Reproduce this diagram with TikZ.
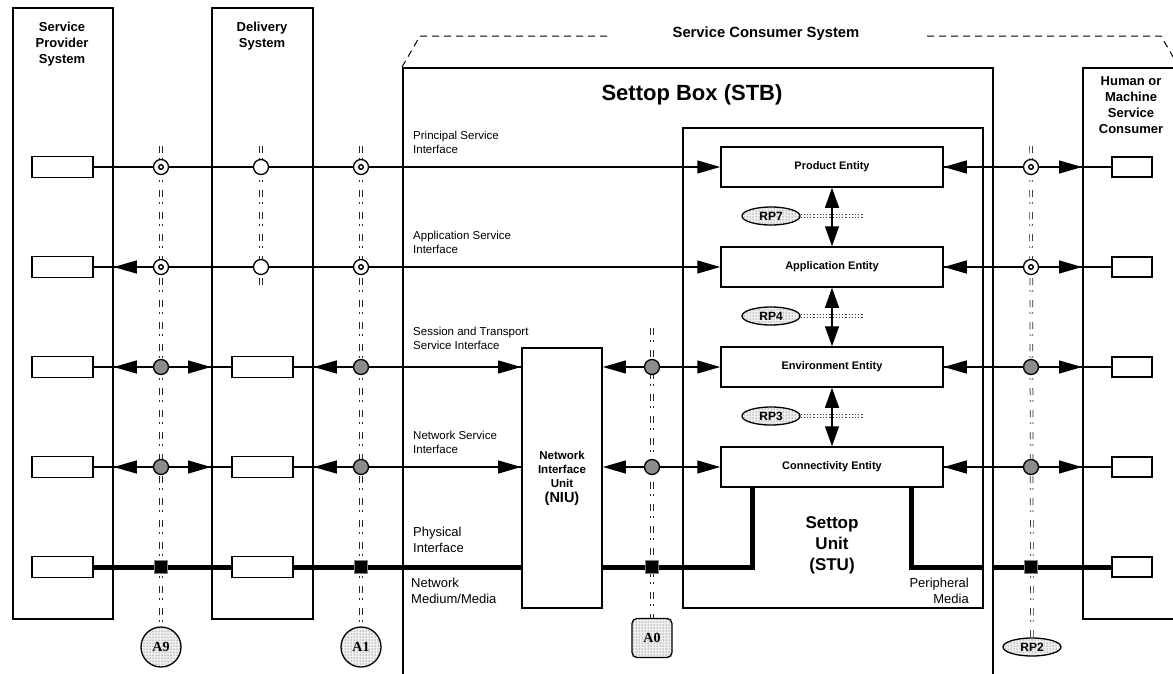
\documentclass[tikz,border=0pt]{standalone}
\usepackage{fontspec}
\setmainfont{Liberation Sans}
\newfontfamily\timesf{Liberation Serif}
\usetikzlibrary{arrows.meta,patterns,shapes.geometric}
\pgfdeclarelayer{bg}
\pgfsetlayers{bg,main}
\begin{document}
\begin{tikzpicture}[x=1pt,y=-1pt,
  sys/.style={draw, line width=1.8pt, inner sep=0, anchor=north west},
  ttl/.style={inner sep=0, anchor=north, align=center, font=\fontsize{13}{16}\selectfont\bfseries},
  lbl/.style={inner sep=0, anchor=north west, align=left, font=\fontsize{11.5}{14}\selectfont},
  lbll/.style={inner sep=0, anchor=north west, align=left, font=\fontsize{13}{16}\selectfont},
  small/.style={draw, line width=1.5pt, fill=white, minimum width=61pt, minimum height=21pt, inner sep=0},
  smallr/.style={small, minimum width=40pt, minimum height=20pt},
  ent/.style={draw, line width=1.5pt, fill=white, minimum width=222pt, minimum height=40pt, inner sep=0, font=\fontsize{11}{12}\selectfont\bfseries},
  conn/.style={line width=1.3pt},
  arr/.style={conn, -{Triangle[length=23pt,width=13pt]}},
  dbl/.style={conn, {Triangle[length=20pt,width=14pt]}-{Triangle[length=20pt,width=14pt]}},
  opc/.style={circle, draw, line width=1.3pt, fill=white, minimum size=15pt, inner sep=0},
  ringc/.style={opc, path picture={\draw[line width=1.4pt] (path picture bounding box.center) circle (2.3pt);}},
  grc/.style={opc, fill=black!45},
  sq/.style={draw=black!50, fill=black, minimum size=13pt, inner sep=0, line width=0.8pt},
  phys/.style={line width=5pt},
  refl/.style={draw=black!85, double=white, double distance=2pt, line width=0.75pt, dash pattern=on 7pt off 5pt on 1.5pt off 8.5pt},
  rpdot/.style={draw=black!75, line width=1pt, dash pattern=on 1.2pt off 2pt},
  stip/.style={preaction={fill=black!6}, pattern=dots, pattern color=black!80},
  rpe/.style={ellipse, draw, line width=1.3pt, stip, minimum width=58pt, minimum height=18pt, inner sep=0, font=\fontsize{12}{12}\selectfont\bfseries},
  acirc/.style={circle, draw, line width=1.3pt, stip, minimum size=40pt, inner sep=0, font=\timesf\fontsize{14}{14}\selectfont\bfseries},
  dsh/.style={line width=1pt, dash pattern=on 7pt off 5pt}
]
\useasboundingbox (0,0) rectangle (1173,673);
\clip (0,0) rectangle (1173,673);

% systems
\node[sys, minimum width=100pt, minimum height=611pt] (sps) at (12,7) {};
\node[ttl] (spst) at (62,22) {Service\\Provider\\System};
\node[sys, minimum width=101pt, minimum height=611pt] (ds) at (211,7) {};
\node[ttl] (dst) at (262,22) {Delivery\\System};
\node[sys, minimum width=590pt, minimum height=640pt] (stb) at (402,67) {};
\node[inner sep=0, anchor=north, font=\fontsize{22}{24}\selectfont\bfseries] (stbt) at (692,84) {Settop Box (STB)};
\node[sys, minimum width=300pt, minimum height=480pt] (stu) at (682,127) {};
\node[inner sep=0, anchor=north, align=center, font=\fontsize{17}{21}\selectfont\bfseries] (stut) at (832,516) {Settop\\Unit\\(STU)};
\node[sys, minimum width=100pt, minimum height=551pt] (hm) at (1082,67) {};
\node[ttl] (hmt) at (1131,76) {Human or\\Machine\\Service\\Consumer};
\node[inner sep=0, anchor=north, font=\fontsize{14.8}{16}\selectfont\bfseries] (sct) at (766,27) {Service Consumer System};
\node[draw, line width=1.8pt, fill=white, minimum width=80pt, minimum height=260pt, inner sep=0, align=center, font=\fontsize{11.5}{14}\selectfont\bfseries] (niu) at (562,478) {Network\\Interface\\Unit\\[1pt]{\fontsize{14.5}{16}\selectfont (NIU)}};

% dashed consumer outline
\coordinate (sc1) at (420,36);
\coordinate (sc2) at (610,36);
\coordinate (sc3) at (927,36);
\coordinate (sc4) at (1161,36);
\coordinate (sc5) at (1179,67);
\draw[dsh] (stb.north west) -- (sc1) -- (sc2);
\draw[dsh] (sc3) -- (sc4) -- (sc5);

% entities
\node[ent] (pe) at (832,167) {Product Entity};
\node[ent] (ae) at (832,267) {Application Entity};
\node[ent] (ee) at (832,367) {Environment Entity};
\node[ent] (ce) at (832,467) {Connectivity Entity};

% interface labels
\node[lbl] (lb1) at (413,131) {Principal Service\\Interface};
\node[lbl] (lb2) at (413,231) {Application Service\\Interface};
\node[lbl] (lb3) at (413,327) {Session and Transport\\Service Interface};
\node[lbl] (lb4) at (413,431) {Network Service\\Interface};
\node[lbll] (lb5) at (413,527) {Physical\\Interface};
\node[lbll] (lb6) at (411,578) {Network\\Medium/Media};
\node[lbll, anchor=north east, align=right] (lb7) at (969,578) {Peripheral\\Media};

% small rectangles
\foreach \r/\y in {1/167,2/267,3/367,4/467,5/567}{
  \node[small] (l\r) at (62.5,\y) {};
  \node[smallr] (r\r) at (1132,\y) {};
}
\foreach \r/\y in {3/367,4/467,5/567}{
  \node[small] (d\r) at (262.5,\y) {};
}

% junction symbols
\node[ringc] (a9c1) at (161,167) {};
\node[ringc] (a9c2) at (161,267) {};
\node[grc] (a9c3) at (161,367) {};
\node[grc] (a9c4) at (161,467) {};
\node[sq] (a9c5) at (161,567) {};
\node[opc] (dc1) at (261,167) {};
\node[opc] (dc2) at (261,267) {};
\node[ringc] (a1c1) at (361,167) {};
\node[ringc] (a1c2) at (361,267) {};
\node[grc] (a1c3) at (361,367) {};
\node[grc] (a1c4) at (361,467) {};
\node[sq] (a1c5) at (361,567) {};
\node[grc] (a0c3) at (652,367) {};
\node[grc] (a0c4) at (652,467) {};
\node[sq] (a0c5) at (652,567) {};
\node[ringc] (rp1) at (1031,167) {};
\node[ringc] (rp2c) at (1031,267) {};
\node[grc] (rp3) at (1031,367) {};
\node[grc] (rp4) at (1031,467) {};
\node[sq] (rp5) at (1031,567) {};

% reference point labels
\node[acirc] (a9) at (161,647) {A9};
\node[acirc] (a1) at (361,647) {A1};
\node[draw, line width=1.3pt, stip, rounded corners=5pt, minimum width=40pt, minimum height=39pt, inner sep=0, font=\timesf\fontsize{14}{14}\selectfont\bfseries] (a0) at (652,638) {A0};
\node[rpe] (rpl2) at (1032,647) {RP2};
\node[rpe] (rpl7) at (771,216) {RP7};
\node[rpe] (rpl4) at (771,316) {RP4};
\node[rpe] (rpl3) at (771,416) {RP3};

\coordinate (t9) at (161,146);
\coordinate (td) at (261,146);
\coordinate (bd) at (261,285);
\coordinate (t1) at (361,146);
\coordinate (t0) at (652,328);
\coordinate (tr) at (1031,146);
\coordinate (e7) at (863,216);
\coordinate (e4) at (863,316);
\coordinate (e3) at (863,416);
\coordinate (k1) at (752,567);
\coordinate (k2) at (911,567);

\begin{pgfonlayer}{bg}
  % reference lines
  \draw[refl] (t9) -- (a9);
  \draw[refl] (td) -- (bd);
  \draw[refl] (t1) -- (a1);
  \draw[refl] (t0) -- (a0);
  \draw[refl] (tr) -- (rpl2);
  \foreach \n/\e in {rpl7/e7,rpl4/e4,rpl3/e3}{
    \draw[rpdot] ([yshift=1.6pt]\n.east) -- ([yshift=1.6pt]\e);
    \draw[rpdot] ([yshift=-1.6pt]\n.east) -- ([yshift=-1.6pt]\e);
  }

  % row 1
  \draw[arr] (l1) -- (pe);
  \draw[conn] (pe) -- (r1);
  \draw[arr] (rp1) -- (rp1 -| pe.east);
  \draw[arr] (rp1) -- (rp1 -| hm.west);
  % row 2
  \draw[arr] (l2) -- (ae);
  \draw[arr] (a9c2) -- (a9c2 -| sps.east);
  \draw[conn] (ae) -- (r2);
  \draw[arr] (rp2c) -- (rp2c -| ae.east);
  \draw[arr] (rp2c) -- (rp2c -| hm.west);
  % row 3
  \draw[conn] (l3) -- (d3);
  \draw[arr] (a9c3) -- (a9c3 -| sps.east);
  \draw[arr] (a9c3) -- (a9c3 -| ds.west);
  \draw[conn] (d3) -- (d3 -| niu.west);
  \draw[arr] (a1c3) -- (a1c3 -| ds.east);
  \draw[arr] (a1c3) -- (a1c3 -| niu.west);
  \draw[arr] (a0c3) -- (a0c3 -| niu.east);
  \draw[arr] (a0c3) -- (ee);
  \draw[conn] (ee) -- (r3);
  \draw[arr] (rp3) -- (rp3 -| ee.east);
  \draw[arr] (rp3) -- (rp3 -| hm.west);
  % row 4
  \draw[conn] (l4) -- (d4);
  \draw[arr] (a9c4) -- (a9c4 -| sps.east);
  \draw[arr] (a9c4) -- (a9c4 -| ds.west);
  \draw[conn] (d4) -- (d4 -| niu.west);
  \draw[arr] (a1c4) -- (a1c4 -| ds.east);
  \draw[arr] (a1c4) -- (a1c4 -| niu.west);
  \draw[arr] (a0c4) -- (a0c4 -| niu.east);
  \draw[arr] (a0c4) -- (ce);
  \draw[conn] (ce) -- (r4);
  \draw[arr] (rp4) -- (rp4 -| ce.east);
  \draw[arr] (rp4) -- (rp4 -| hm.west);
  % row 5 physical
  \draw[phys] (l5) -- (d5);
  \draw[phys] (d5) -- (d5 -| niu.west);
  \draw[phys] (a0c5 -| niu.east) -- (k1) -- (k1 |- ce.south);
  \draw[phys] (k2 |- ce.south) -- (k2) -- (k2 -| stu.east);
  \draw[phys] (rp5 -| stb.east) -- (r5);
  % entity stack
  \draw[dbl] (pe) -- (ae);
  \draw[dbl] (ae) -- (ee);
  \draw[dbl] (ee) -- (ce);
\end{pgfonlayer}
\end{tikzpicture}
\end{document}
